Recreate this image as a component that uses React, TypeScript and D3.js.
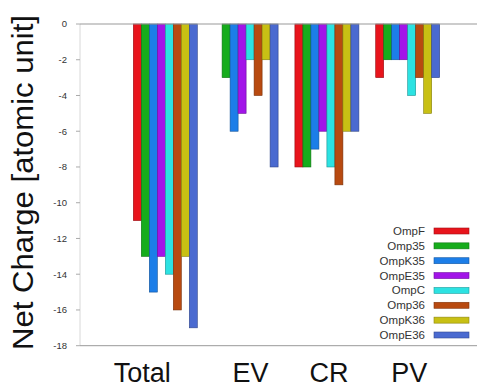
import React from "react";
import * as d3 from "d3";

const groups = ["Total", "EV", "CR", "PV"];
const seriesNames = ["OmpF", "Omp35", "OmpK35", "OmpE35", "OmpC", "Omp36", "OmpK36", "OmpE36"];
const seriesColors = ["#e8141c", "#16ac1c", "#1c7ee8", "#a214e8", "#2ce2e2", "#b84a10", "#c8c014", "#4a6ad0"];
const OmpF = [-11, 0, -8, -3];
const Omp35 = [-13, -3, -8, -2];
const OmpK35 = [-15, -6, -7, -2];
const OmpE35 = [-13, -5, -6, -2];
const OmpC = [-14, -2, -8, -4];
const Omp36 = [-16, -4, -9, -3];
const OmpK36 = [-13, -2, -6, -5];
const OmpE36 = [-17, -8, -6, -3];
const yTicks = [0, -2, -4, -6, -8, -10, -12, -14, -16, -18];

const values = [OmpF, Omp35, OmpK35, OmpE35, OmpC, Omp36, OmpK36, OmpE36];

const W = 477;
const H = 387;
const left = 80;
const right = 477;
const top = 24;
const bottom = 345.7;
const font = "'Liberation Sans', Arial, sans-serif";

export default function App() {
  const y = d3.scaleLinear().domain([0, -18]).range([top, bottom]);
  const x0 = d3.scaleBand<string>().domain(groups).range([124.9, 448.1]).paddingInner(0.208).paddingOuter(0.104);
  const x1 = d3.scaleBand<string>().domain(seriesNames).range([0, x0.bandwidth()]);
  const labelDx: Record<string, number> = { Total: -23, EV: 4.5, CR: 2, PV: 1.5 };
  const legendY = d3.scalePoint<string>().domain(seriesNames).range([231, 335]);

  return (
    <div style={{ position: "fixed", left: 0, top: 0 }}>
      <svg width={W} height={H} style={{ display: "block", background: "#fff" }} fontFamily={font}>
        {/* left axis */}
        <line x1={left} x2={left} y1={top} y2={bottom} stroke="#d8d8d8" strokeWidth={1} />
        {yTicks.map((t) => (
          <g key={t}>
            <line x1={left - 4} x2={left} y1={y(t)} y2={y(t)} stroke="#aaa" />
            <text x={67} y={y(t)} dy="0.35em" textAnchor="end" fontSize={9.5} fill="#333">
              {t}
            </text>
          </g>
        ))}
        {/* bars */}
        {groups.map((g, gi) => (
          <g key={g} transform={`translate(${x0(g)},0)`}>
            {seriesNames.map((s, si) => {
              const v = values[si][gi];
              const yy = y(0);
              const h = y(v) - y(0);
              if (h <= 0) return null;
              return (
                <rect
                  key={s}
                  x={x1(s)}
                  y={yy}
                  width={x1.bandwidth()}
                  height={h}
                  fill={seriesColors[si]}
                  stroke={d3.color(seriesColors[si])!.darker(1.2).toString()}
                  strokeWidth={0.6}
                />
              );
            })}
          </g>
        ))}
        {/* top and bottom lines */}
        <line x1={left} x2={right} y1={y(0)} y2={y(0)} stroke="#999" strokeWidth={1} />
        <line x1={left} x2={right} y1={bottom} y2={bottom} stroke="#999" strokeWidth={1} />
        {/* x labels */}
        {groups.map((g) => (
          <text
            key={g}
            x={(x0(g) as number) + x0.bandwidth() / 2 + labelDx[g]}
            y={381.5}
            textAnchor="middle"
            fontSize={27}
            fill="#111"
          >
            {g}
          </text>
        ))}
        {/* y title */}
        <text
          transform={`translate(33,${(15 + 350) / 2}) rotate(-90)`}
          textAnchor="middle"
          fontSize={29}
          fill="#111"
          textLength={335}
          lengthAdjust="spacingAndGlyphs"
        >
          Net Charge [atomic unit]
        </text>
        {/* legend */}
        {seriesNames.map((s, i) => (
          <g key={s}>
            <text x={425} y={legendY(s)} dy="0.35em" textAnchor="end" fontSize={11.5} fill="#333">
              {s}
            </text>
            <rect
              x={434}
              y={(legendY(s) as number) - 3}
              width={35}
              height={6}
              fill={seriesColors[i]}
              stroke={d3.color(seriesColors[i])!.darker(1).toString()}
              strokeWidth={0.6}
            />
          </g>
        ))}
      </svg>
    </div>
  );
}
